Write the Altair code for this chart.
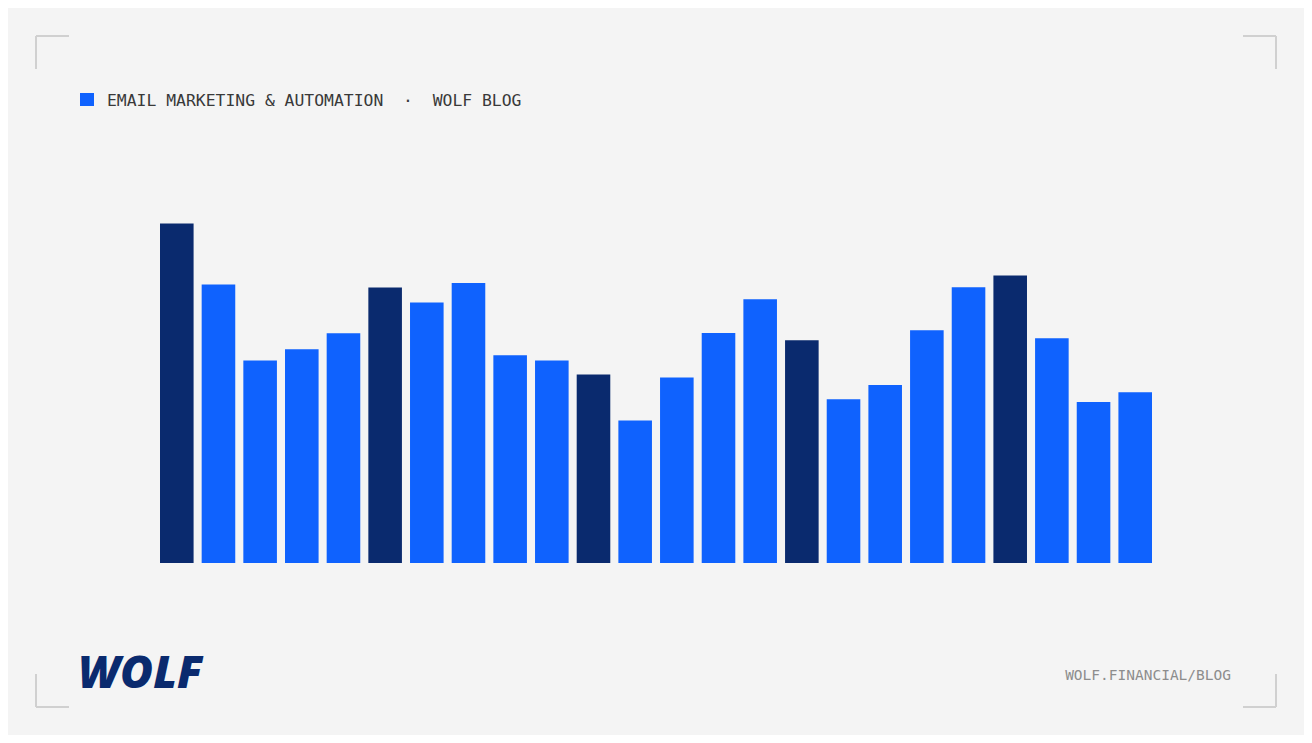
import altair as alt
import pandas as pd

# ---- data ----
periods = [f"P{i:02d}" for i in range(1, 25)]
values = [339.4, 278.4, 202.4, 213.7, 229.7, 275.4, 260.4, 280.0, 207.7, 202.4, 188.4, 142.4,
          185.4, 230.0, 263.7, 222.7, 163.7, 178.0, 232.7, 275.7, 287.4, 224.7, 161.0, 170.7]
highlight = ["dark" if (i % 5 == 0) else "bright" for i in range(24)]

NB = "\u00a0"
header_text = "EMAIL MARKETING & AUTOMATION" + NB * 2 + "·" + NB * 2 + "WOLF BLOG"
footer_text = "WOLF.FINANCIAL/BLOG"
logo_text = "WOLF"

BG = "#f4f4f4"
DARK = "#0a2a6e"
BRIGHT = "#0f62fe"
BRACKET = "#d0d0d0"

df = pd.DataFrame({"period": periods, "value": values, "tone": highlight})
one = pd.DataFrame({"k": [0]})

bars = alt.Chart(df).mark_bar().encode(
    x=alt.X("period:N", sort=None, axis=None,
            scale=alt.Scale(range=[152, 1144], paddingInner=0.194, paddingOuter=0)),
    y=alt.Y("value:Q", axis=None, scale=alt.Scale(domain=[0, 340], range=[555, 215], nice=False)),
    color=alt.Color("tone:N", legend=None,
                    scale=alt.Scale(domain=["dark", "bright"], range=[DARK, BRIGHT])),
)

def rule(x1, x2, y1, y2):
    return alt.Chart(one).mark_rule(color=BRACKET, strokeWidth=2).encode(
        x=alt.value(x1), x2=alt.value(x2), y=alt.value(y1), y2=alt.value(y2))

brackets = [
    rule(28, 61, 28, 28), rule(28, 28, 28, 61),
    rule(1235, 1268, 28, 28), rule(1268, 1268, 28, 61),
    rule(28, 61, 699, 699), rule(28, 28, 666, 699),
    rule(1235, 1268, 699, 699), rule(1268, 1268, 666, 699),
]

square = alt.Chart(one).mark_rect(color=BRIGHT).encode(
    x=alt.value(72), x2=alt.value(86), y=alt.value(85), y2=alt.value(98))

header = alt.Chart(one).mark_text(
    text=header_text, font="DejaVu Sans Mono", fontSize=16.4, color="#393939",
    align="left", baseline="alphabetic").encode(x=alt.value(99), y=alt.value(98))

footer = alt.Chart(one).mark_text(
    text=footer_text, font="DejaVu Sans Mono", fontSize=14.5, color="#8d8d8d",
    align="right", baseline="alphabetic").encode(x=alt.value(1223), y=alt.value(672))

logo = alt.Chart(one).mark_text(
    text=logo_text, font="Open Sans", fontSize=45, fontWeight=800, fontStyle="italic",
    color=DARK, align="left", baseline="alphabetic").encode(x=alt.value(70), y=alt.value(680))

chart = alt.layer(bars, *brackets, square, header, footer, logo).properties(
    width=1296, height=727, background=BG, padding=0,
    autosize=alt.AutoSizeParams(type="none"),
).configure_view(stroke=None)

chart.save("out.html", embed_options={"renderer": "svg", "actions": False})
